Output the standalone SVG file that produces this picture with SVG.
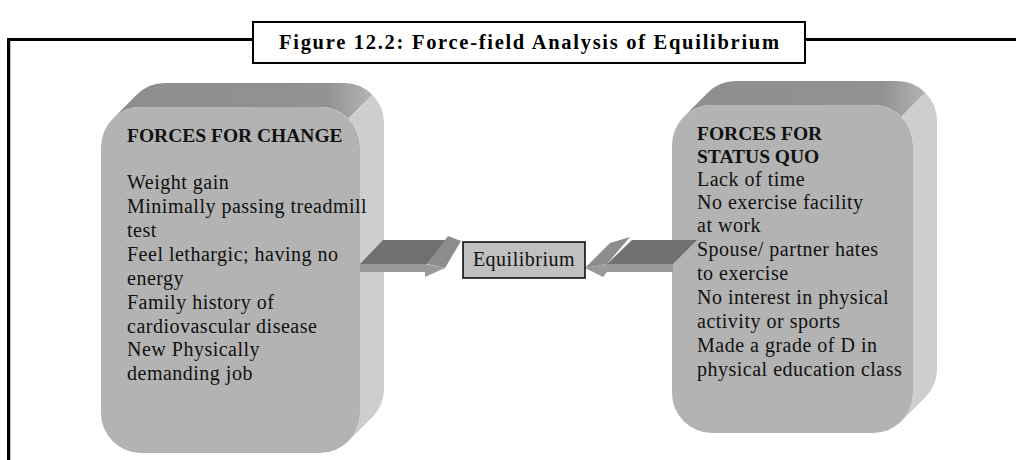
<svg xmlns="http://www.w3.org/2000/svg" width="1016" height="460" viewBox="0 0 1016 460">
<defs>
<linearGradient id="topGrad" x1="0" y1="0" x2="1" y2="0">
<stop offset="0" stop-color="#8e8e8e"/>
<stop offset="0.82" stop-color="#929292"/>
<stop offset="1" stop-color="#b4b4b4"/>
</linearGradient>
</defs>
<style>
.frame{fill:none;stroke:#000;stroke-width:3}
.title{fill:#fff;stroke:#000;stroke-width:2}
.ttl{font-family:"Liberation Serif",serif;font-weight:bold;font-size:20.5px;fill:#000}
.top{fill:url(#topGrad)}
.side{fill:#cecece}
.front{fill:#b3b3b3}
.txt{font-family:"Liberation Serif",serif;font-size:20px;letter-spacing:0.5px;fill:#111}
.bold{font-weight:bold;font-size:19.5px;letter-spacing:0}
.atop{fill:#707070}
.ahead{fill:#8c8c8c}
.afront{fill:#9a9a9a}
.eq{fill:#c0c0c0;stroke:#000;stroke-width:1.5}
</style>
<rect width="1016" height="460" fill="#fff"/>
<g id="frame">
<path class="frame" d="M8.5 460 V39.5 H253 M805 39.5 H1016"/>
<line x1="10.5" y1="41" x2="10.5" y2="460" stroke="#bbb" stroke-width="1"/>
</g>
<g id="title">
<rect class="title" x="253" y="22" width="552" height="41"/>
<text class="ttl" x="529" y="49" text-anchor="middle" textLength="500" lengthAdjust="spacing">Figure 12.2: Force-field Analysis of Equilibrium</text>
</g>
<g id="forces-for-change">
<path class="top" d="M112.7 118.7 A40 40 0 0 1 141 107 L320 107 A40 40 0 0 1 348.3 118.7 L372.3 94.7 A40 40 0 0 0 344 83 L165 83 A40 40 0 0 0 136.7 94.7 Z"/>
<path class="side" d="M348.3 118.7 L372.3 94.7 A40 40 0 0 1 384 123 L384 389 A40 40 0 0 1 372.3 417.3 L348.3 441.3 A40 40 0 0 0 360 413 L360 147 A40 40 0 0 0 348.3 118.7 Z"/>
<rect class="front" x="101" y="107" width="259" height="346" rx="40" ry="40"/>
</g>
<g id="forces-for-status-quo">
<path class="top" d="M683.7 116.7 A40 40 0 0 1 712 105 L873 105 A40 40 0 0 1 901.3 116.7 L925.3 92.7 A40 40 0 0 0 897 81 L736 81 A40 40 0 0 0 707.7 92.7 Z"/>
<path class="side" d="M901.3 116.7 L925.3 92.7 A40 40 0 0 1 937 121 L937 369 A40 40 0 0 1 925.3 397.3 L901.3 421.3 A40 40 0 0 0 913 393 L913 145 A40 40 0 0 0 901.3 116.7 Z"/>
<rect class="front" x="672" y="105" width="241" height="328" rx="40" ry="40"/>
</g>
<g id="connectors">
<g id="arrow-left">
<polygon class="atop" points="360,264 383,240 447,240 427,264"/>
<rect class="afront" x="360" y="264" width="67" height="8"/>
<polygon class="ahead" points="427,264 448,236 461,241 445,268"/>
<polygon class="afront" points="425,264 445,268 425,277"/>
</g>
<g id="arrow-right">
<polygon class="atop" points="632,240 697,240 673,264 607,264"/>
<rect class="afront" x="607" y="264" width="66" height="8"/>
<polygon class="ahead" points="630,237 610,243 585,268 607,264"/>
<polygon class="afront" points="585,268 607,264 607,272 603,277"/>
</g>
</g>
<g id="equilibrium">
<rect class="eq" x="463" y="242" width="122" height="36"/>
<text class="txt" x="524" y="266" text-anchor="middle">Equilibrium</text>
</g>
<g id="change-text">
<text class="txt bold" x="127" y="142">FORCES FOR CHANGE</text>
<text class="txt" x="127" y="189">Weight gain</text>
<text class="txt" x="127" y="213">Minimally passing treadmill</text>
<text class="txt" x="127" y="237">test</text>
<text class="txt" x="127" y="261">Feel lethargic; having no</text>
<text class="txt" x="127" y="285">energy</text>
<text class="txt" x="127" y="309">Family history of</text>
<text class="txt" x="127" y="333">cardiovascular disease</text>
<text class="txt" x="127" y="356">New Physically</text>
<text class="txt" x="127" y="380">demanding job</text>
</g>
<g id="statusquo-text">
<text class="txt bold" x="697" y="140">FORCES FOR</text>
<text class="txt bold" x="697" y="163">STATUS QUO</text>
<text class="txt" x="697" y="186">Lack of time</text>
<text class="txt" x="697" y="209">No exercise facility</text>
<text class="txt" x="697" y="232">at work</text>
<text class="txt" x="697" y="256">Spouse/ partner hates</text>
<text class="txt" x="697" y="280">to exercise</text>
<text class="txt" x="697" y="304">No interest in physical</text>
<text class="txt" x="697" y="328">activity or sports</text>
<text class="txt" x="697" y="352">Made a grade of D in</text>
<text class="txt" x="697" y="376">physical education class</text>
</g>
</svg>
